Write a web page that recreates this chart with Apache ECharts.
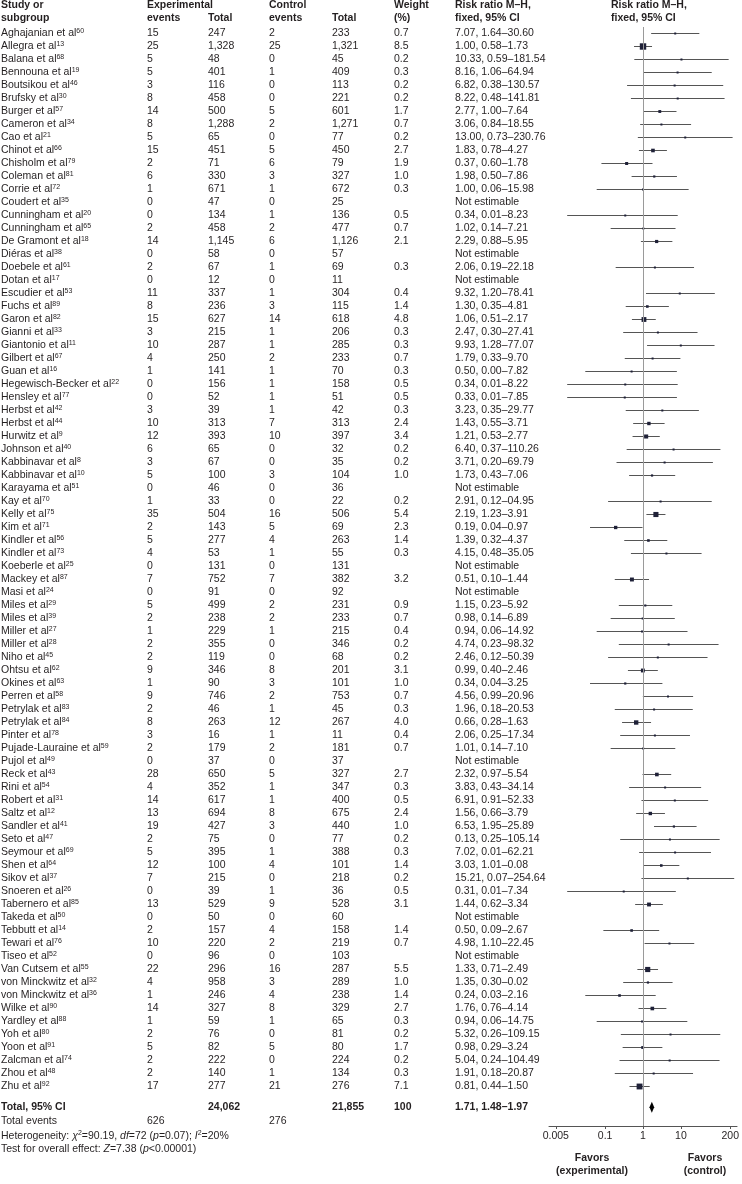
<!DOCTYPE html>
<html><head><meta charset="utf-8">
<script src="https://cdn.jsdelivr.net/npm/echarts@6/dist/echarts.min.js"></script>
<style>html,body{margin:0;padding:0;background:#fff}#c{width:742px;height:1184px}</style>
</head><body><div id="c"></div>
<script>
// ---------------- data ----------------
const authors = ['Aghajanian','Allegra','Balana','Bennouna','Boutsikou','Brufsky','Burger','Cameron','Cao','Chinot',
 'Chisholm','Coleman','Corrie','Coudert','Cunningham','Cunningham','De Gramont','Diéras','Doebele','Dotan',
 'Escudier','Fuchs','Garon','Gianni','Giantonio','Gilbert','Guan','Hegewisch-Becker','Hensley','Herbst',
 'Herbst','Hurwitz','Johnson','Kabbinavar','Kabbinavar','Karayama','Kay','Kelly','Kim','Kindler',
 'Kindler','Koeberle','Mackey','Masi','Miles','Miles','Miller','Miller','Niho','Ohtsu',
 'Okines','Perren','Petrylak','Petrylak','Pinter','Pujade-Lauraine','Pujol','Reck','Rini','Robert',
 'Saltz','Sandler','Seto','Seymour','Shen','Sikov','Snoeren','Tabernero','Takeda','Tebbutt',
 'Tewari','Tiseo','Van Cutsem','von Minckwitz','von Minckwitz','Wilke','Yardley','Yoh','Yoon','Zalcman',
 'Zhou','Zhu'];
const refs = ['60','13','68','19','46','30','57','34','21','66',
 '79','81','72','35','20','65','18','38','61','17',
 '53','89','82','33','11','67','16','22','77','42',
 '44','9','40','8','10','51','70','75','71','56',
 '73','25','87','24','29','39','27','28','45','62',
 '63','58','83','84','78','59','49','43','54','31',
 '12','41','47','69','64','37','26','85','50','14',
 '76','52','55','32','36','90','88','80','91','74',
 '48','92'];
const expEvents = [15,25,5,5,3,8,14,8,5,15, 2,6,1,0,0,2,14,0,2,0, 11,8,15,3,10,4,1,0,0,3, 10,12,6,3,5,0,1,35,2,5,
 4,0,7,0,5,2,1,2,2,9, 1,9,2,8,3,2,0,28,4,14, 13,19,2,5,12,7,0,13,0,2, 10,0,22,4,1,14,1,2,5,2, 2,17];
const expTotal = [247,1328,48,401,116,458,500,1288,65,451, 71,330,671,47,134,458,1145,58,67,12, 337,236,627,215,287,250,141,156,52,39,
 313,393,65,67,100,46,33,504,143,277, 53,131,752,91,499,238,229,355,119,346, 90,746,46,263,16,179,37,650,352,617,
 694,427,75,395,100,215,39,529,50,157, 220,96,296,958,246,327,59,76,82,222, 140,277];
const ctrlEvents = [2,25,0,1,0,0,5,2,0,5, 6,3,1,0,1,2,6,0,1,0, 1,3,14,1,1,2,1,1,1,1, 7,10,0,0,3,0,0,16,5,4,
 1,0,7,0,2,2,1,0,0,8, 3,2,1,12,1,2,0,5,1,1, 8,3,0,1,4,0,1,9,0,4, 2,0,16,3,4,8,1,0,5,0, 1,21];
const ctrlTotal = [233,1321,45,409,113,221,601,1271,77,450, 79,327,672,25,136,477,1126,57,69,11, 304,115,618,206,285,233,70,158,51,42,
 313,397,32,35,104,36,22,506,69,263, 55,131,382,92,231,233,215,346,68,201, 101,753,45,267,11,181,37,327,347,400,
 675,440,77,388,101,218,36,528,60,158, 219,103,287,289,238,329,65,81,80,224, 134,276];
const weights = [0.7,8.5,0.2,0.3,0.2,0.2,1.7,0.7,0.2,2.7, 1.9,1.0,0.3,null,0.5,0.7,2.1,null,0.3,null,
 0.4,1.4,4.8,0.3,0.3,0.7,0.3,0.5,0.5,0.3, 2.4,3.4,0.2,0.2,1.0,null,0.2,5.4,2.3,1.4,
 0.3,null,3.2,null,0.9,0.7,0.4,0.2,0.2,3.1, 1.0,0.7,0.3,4.0,0.4,0.7,null,2.7,0.3,0.5,
 2.4,1.0,0.2,0.3,1.4,0.2,0.5,3.1,null,1.4, 0.7,null,5.5,1.0,1.4,2.7,0.3,0.2,1.7,0.2, 0.3,7.1];
const ciLabels = ['7.07, 1.64–30.60','1.00, 0.58–1.73','10.33, 0.59–181.54','8.16, 1.06–64.94','6.82, 0.38–130.57',
 '8.22, 0.48–141.81','2.77, 1.00–7.64','3.06, 0.84–18.55','13.00, 0.73–230.76','1.83, 0.78–4.27',
 '0.37, 0.60–1.78','1.98, 0.50–7.86','1.00, 0.06–15.98','Not estimable','0.34, 0.01–8.23',
 '1.02, 0.14–7.21','2.29, 0.88–5.95','Not estimable','2.06, 0.19–22.18','Not estimable',
 '9.32, 1.20–78.41','1.30, 0.35–4.81','1.06, 0.51–2.17','2.47, 0.30–27.41','9.93, 1.28–77.07',
 '1.79, 0.33–9.70','0.50, 0.00–7.82','0.34, 0.01–8.22','0.33, 0.01–7.85','3.23, 0.35–29.77',
 '1.43, 0.55–3.71','1.21, 0.53–2.77','6.40, 0.37–110.26','3.71, 0.20–69.79','1.73, 0.43–7.06',
 'Not estimable','2.91, 0.12–04.95','2.19, 1.23–3.91','0.19, 0.04–0.97','1.39, 0.32–4.37',
 '4.15, 0.48–35.05','Not estimable','0.51, 0.10–1.44','Not estimable','1.15, 0.23–5.92',
 '0.98, 0.14–6.89','0.94, 0.06–14.92','4.74, 0.23–98.32','2.46, 0.12–50.39','0.99, 0.40–2.46',
 '0.34, 0.04–3.25','4.56, 0.99–20.96','1.96, 0.18–20.53','0.66, 0.28–1.63','2.06, 0.25–17.34',
 '1.01, 0.14–7.10','Not estimable','2.32, 0.97–5.54','3.83, 0.43–34.14','6.91, 0.91–52.33',
 '1.56, 0.66–3.79','6.53, 1.95–25.89','0.13, 0.25–105.14','7.02, 0.01–62.21','3.03, 1.01–0.08',
 '15.21, 0.07–254.64','0.31, 0.01–7.34','1.44, 0.62–3.34','Not estimable','0.50, 0.09–2.67',
 '4.98, 1.10–22.45','Not estimable','1.33, 0.71–2.49','1.35, 0.30–0.02','0.24, 0.03–2.16',
 '1.76, 0.76–4.14','0.94, 0.06–14.75','5.32, 0.26–109.15','0.98, 0.29–3.24','5.04, 0.24–104.49',
 '1.91, 0.18–20.87','0.81, 0.44–1.50'];
// risk ratio and CI as drawn in the picture
const rr = [7.07,1.00,10.33,8.16,6.82,8.22,2.77,3.06,13.00,1.83, 0.37,1.98,1.00,null,0.34,1.02,2.29,null,2.06,null,
 9.32,1.30,1.06,2.47,9.93,1.79,0.50,0.34,0.33,3.23, 1.43,1.21,6.40,3.71,1.73,null,2.91,2.19,0.19,1.39,
 4.15,null,0.51,null,1.15,0.98,0.94,4.74,2.46,0.99, 0.34,4.56,1.96,0.66,2.06,1.01,null,2.32,3.83,6.91,
 1.56,6.53,5.13,7.02,3.03,15.21,0.31,1.44,null,0.50, 4.98,null,1.33,1.35,0.24,1.76,0.94,5.32,0.98,5.04, 1.91,0.81];
const lo = [1.64,0.58,0.59,1.06,0.38,0.48,1.00,0.84,0.73,0.78, 0.08,0.50,0.06,null,0.01,0.14,0.88,null,0.19,null,
 1.20,0.35,0.51,0.30,1.28,0.33,0.03,0.01,0.01,0.35, 0.55,0.53,0.37,0.20,0.43,null,0.12,1.23,0.04,0.32,
 0.48,null,0.18,null,0.23,0.14,0.06,0.23,0.12,0.40, 0.04,0.99,0.18,0.28,0.25,0.14,null,0.97,0.43,0.91,
 0.66,1.95,0.25,0.79,1.01,0.91,0.01,0.62,null,0.09, 1.10,null,0.71,0.30,0.03,0.76,0.06,0.26,0.29,0.24, 0.18,0.44];
const hi = [30.60,1.73,181.54,64.94,130.57,141.81,7.64,18.55,230.76,4.27, 1.78,7.86,15.98,null,8.23,7.21,5.95,null,22.18,null,
 78.41,4.81,2.17,27.41,77.07,9.70,7.82,8.22,7.85,29.77, 3.71,2.77,110.26,69.79,7.06,null,64.95,3.91,0.97,4.37,
 35.05,null,1.44,null,5.92,6.89,14.92,98.32,50.39,2.46, 3.25,20.96,20.53,1.63,17.34,7.10,null,5.54,34.14,52.33,
 3.79,25.89,105.14,62.21,9.08,254.64,7.34,3.34,null,2.67, 22.45,null,2.49,6.02,2.16,4.14,14.75,109.15,3.24,104.49, 20.87,1.50];

const totalExp = 24062, totalCtrl = 21855, totalWeight = '100';
const totalRR = 1.71, totalLo = 1.48, totalHi = 1.97, totalLabel = '1.71, 1.48–1.97';
const totalEventsExp = 626, totalEventsCtrl = 276;

const tickValues = [0.005, 0.1, 1, 10, 200];
const tickLabels = ['0.005', '0.1', '1', '10', '200'];
const headerRow1 = ['Study or', 'Experimental', '', 'Control', '', 'Weight', 'Risk ratio M–H,', 'Risk ratio M–H,'];
const headerRow2 = ['subgroup', 'events', 'Total', 'events', 'Total', '(%)', 'fixed, 95% CI', 'fixed, 95% CI'];

// ---------------- layout ----------------
const FONT = '"Liberation Sans", Arial, sans-serif';
const FS = 10.5;
const TXT = '#231f20';
const COL_X = [1, 147, 208, 269, 332, 394, 455, 611];
const GRID_TOP = 27, ROW_H = 13, AXIS_Y = 1126;
const Y_MAX = (AXIS_Y - GRID_TOP) / ROW_H - 0.5;
const X_EXT = 2.48;             // half-range of the log10 axis
const POS = {total: 82.6, events: 83.7, het: 84.8, test: 85.8};
const fmt = n => n.toLocaleString('en-US');
const L = v => Math.log10(v);
const tickLogs = tickValues.map(L);

function txt(x, y, text, extra) {
  return {type: 'text', style: Object.assign({x: x, y: y, text: String(text), fontSize: FS, fontFamily: FONT,
    fill: TXT, align: 'left', verticalAlign: 'middle'}, extra || {})};
}
const rich = {
  n: {fontSize: FS, fontFamily: FONT, fill: TXT, lineHeight: 12},
  s: {fontSize: 7, fontFamily: FONT, fill: TXT, lineHeight: 6, verticalAlign: 'top'},
  i: {fontSize: FS, fontFamily: FONT, fill: TXT, lineHeight: 12, fontStyle: 'italic'}
};

const rowData = authors.map((a, i) => [0, i]);
const ciData = [];
rr.forEach((v, i) => { if (v != null) ciData.push([L(v), i, L(lo[i]), L(hi[i]), weights[i]]); });

function renderRow(params, api) {
  const i = params.dataIndex;
  const y = api.coord([0, api.value(1)])[1];
  const cells = [expEvents[i], fmt(expTotal[i]), ctrlEvents[i], fmt(ctrlTotal[i]),
    weights[i] == null ? '' : weights[i].toFixed(1), ciLabels[i]];
  const children = [{type: 'text', style: {x: COL_X[0], y: y, text: '{n|' + authors[i] + ' et al}{s|' + refs[i] + '}',
    rich: rich, align: 'left', verticalAlign: 'middle'}}];
  cells.forEach((c, k) => children.push(txt(COL_X[k + 1], y, c)));
  return {type: 'group', children: children};
}
function renderCI(params, api) {
  const y = api.value(1);
  const a = api.coord([api.value(2), y]);
  const b = api.coord([api.value(3), y]);
  const m = api.coord([api.value(0), y]);
  const s = Math.max(2, 2.2 * Math.sqrt(api.value(4)));
  return {type: 'group', children: [
    {type: 'line', shape: {x1: a[0], y1: a[1], x2: b[0], y2: b[1]}, style: {stroke: '#555', lineWidth: 1}},
    {type: 'rect', shape: {x: m[0] - s / 2, y: m[1] - s / 2, width: s, height: s}, style: {fill: '#1f2138'}}
  ]};
}
function renderTotal(params, api) {
  const y = api.value(1);
  const m = api.coord([api.value(0), y]);
  const a = api.coord([api.value(2), y]);
  const b = api.coord([api.value(3), y]);
  const h = 5.5;
  const yT = m[1];
  const yE = api.coord([0, POS.events])[1];
  const yH = api.coord([0, POS.het])[1];
  const yS = api.coord([0, POS.test])[1];
  const bold = {fontWeight: 'bold'};
  return {type: 'group', children: [
    {type: 'polygon', shape: {points: [[a[0], yT], [m[0], yT - h], [b[0], yT], [m[0], yT + h]]}, style: {fill: '#000'}},
    txt(COL_X[0], yT, 'Total, 95% CI', bold),
    txt(COL_X[2], yT, fmt(totalExp), bold),
    txt(COL_X[4], yT, fmt(totalCtrl), bold),
    txt(COL_X[5], yT, totalWeight, bold),
    txt(COL_X[6], yT, totalLabel, bold),
    txt(COL_X[0], yE, 'Total events'),
    txt(COL_X[1], yE, totalEventsExp),
    txt(COL_X[3], yE, totalEventsCtrl),
    {type: 'text', style: {x: COL_X[0], y: yH, align: 'left', verticalAlign: 'middle', rich: rich,
      text: '{n|Heterogeneity: }{i|χ}{s|2}{n|=90.19, }{i|df}{n|=72 (}{i|p}{n|=0.07); }{i|I}{s|2}{n|=20%}'}},
    {type: 'text', style: {x: COL_X[0], y: yS, align: 'left', verticalAlign: 'middle', rich: rich,
      text: '{n|Test for overall effect: }{i|Z}{n|=7.38 (}{i|p}{n|<0.00001)}'}}
  ]};
}

const graphics = [];
headerRow1.forEach((t, k) => { if (t) graphics.push({type: 'text', left: COL_X[k], top: 0,
  style: {text: t, fontSize: FS, fontFamily: FONT, fontWeight: 'bold', fill: TXT}}); });
headerRow2.forEach((t, k) => { if (t) graphics.push({type: 'text', left: COL_X[k], top: 12.5,
  style: {text: t, fontSize: FS, fontFamily: FONT, fontWeight: 'bold', fill: TXT}}); });

const favorsStyle = {fontSize: FS, fontFamily: FONT, fontWeight: 'bold', fill: TXT, align: 'center', verticalAlign: 'middle'};

const chart = echarts.init(document.getElementById('c'));
chart.setOption({
  backgroundColor: '#fff',
  animation: false,
  grid: {left: 549, right: 2, top: GRID_TOP, height: AXIS_Y - GRID_TOP, containLabel: false},
  xAxis: {
    type: 'value', min: -X_EXT, max: X_EXT, position: 'bottom',
    axisLine: {show: true, onZero: false, lineStyle: {color: '#555', width: 1}},
    axisTick: {show: true, length: 3, customValues: tickLogs, lineStyle: {color: '#555'}},
    axisLabel: {customValues: tickLogs, margin: 5, fontSize: FS, fontFamily: FONT, color: TXT,
      formatter: v => { const k = tickLogs.findIndex(t => Math.abs(t - v) < 1e-6); return k >= 0 ? tickLabels[k] : ''; }},
    splitLine: {show: false}
  },
  yAxis: {type: 'value', inverse: true, min: -0.5, max: Y_MAX, show: false},
  graphic: graphics.concat([
    {type: 'text', x: 592, y: 1158, style: Object.assign({text: 'Favors'}, favorsStyle)},
    {type: 'text', x: 592, y: 1171, style: Object.assign({text: '(experimental)'}, favorsStyle)},
    {type: 'text', x: 705, y: 1158, style: Object.assign({text: 'Favors'}, favorsStyle)},
    {type: 'text', x: 705, y: 1171, style: Object.assign({text: '(control)'}, favorsStyle)}
  ]),
  series: [
    {type: 'custom', name: 'table', data: rowData, renderItem: renderRow, clip: false, silent: true,
      encode: {x: 0, y: 1}},
    {type: 'custom', name: 'studies', data: ciData, renderItem: renderCI, clip: false, silent: true,
      encode: {x: 0, y: 1}, z: 3,
      markLine: {silent: true, symbol: ['none', 'none'], label: {show: false},
        lineStyle: {color: '#9a9a9a', type: 'solid', width: 1}, data: [{xAxis: 0}]}},
    {type: 'custom', name: 'total', data: [[L(totalRR), POS.total, L(totalLo), L(totalHi)]], renderItem: renderTotal,
      clip: false, silent: true, encode: {x: 0, y: 1}, z: 4}
  ]
});
</script></body></html>
